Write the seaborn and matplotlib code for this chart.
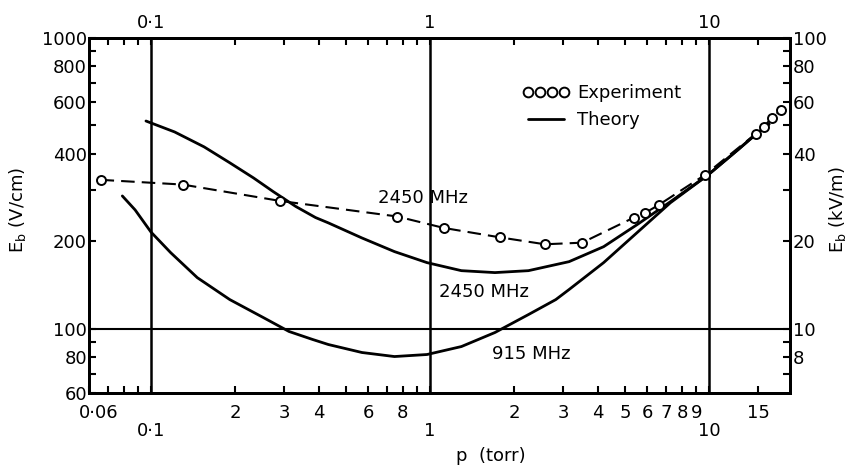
import matplotlib
matplotlib.use("Agg")
import matplotlib.pyplot as plt
import matplotlib.transforms as mtransforms
import seaborn as sns
import pandas as pd
from matplotlib.ticker import FixedLocator, FixedFormatter, NullFormatter
from matplotlib.lines import Line2D

# ---------------- data ----------------
theory_2450_p = [0.0960, 0.1216, 0.1551, 0.1917, 0.2331, 0.2744, 0.3307, 0.389,
                 0.4325, 0.5705, 0.746, 0.976, 1.296, 1.709, 2.253, 2.824,
                 3.15, 4.19, 5.52, 7.27, 9.92, 12.75, 14.7, 16.4]
theory_2450_E = [518, 475, 422, 372, 330, 296, 263, 241,
                 231, 205, 184, 168.6, 158.2, 155.8, 158.2, 166,
                 169.9, 191.3, 227.8, 273.2, 338, 414, 466, 505]

theory_915_p = [0.0790, 0.0878, 0.1, 0.1177, 0.1466, 0.1917, 0.2528, 0.3125,
                0.3797, 0.4325, 0.5705, 0.746, 0.976, 1.296, 1.709, 2.253,
                2.824, 3.15, 4.19, 5.52, 7.27, 9.92, 12.75, 14.7, 16.4]
theory_915_E = [286, 256, 215, 182.5, 149.7, 125.8, 109.1, 97.7,
                91.7, 88.1, 82.7, 80.1, 81.4, 86.7, 96.9, 111.7,
                125.8, 136.2, 168.6, 213.8, 271, 338, 414, 466, 505]

exp_p = [0.066, 0.13, 0.29, 0.764, 1.12, 1.78, 2.58, 3.51, 5.38, 5.90, 6.63,
         9.67, 14.7, 15.7, 16.8, 18.1]
exp_E = [325, 313, 275, 243, 222, 206, 195, 197.5, 241, 250, 267,
         338, 468, 495, 531, 566]

left_ticks = [60, 80, 100, 200, 400, 600, 800, 1000]
left_labels = ["60", "80", "100", "200", "400", "600", "800", "1000"]
left_minor = [70, 90, 300, 500, 700, 900]

right_ticks = [8, 10, 20, 40, 60, 80, 100]
right_labels = ["8", "10", "20", "40", "60", "80", "100"]
right_minor = [7, 9, 30, 50, 70, 90]

x_major = [0.1, 1, 10]
x_major_labels = ["0·1", "1", "10"]
x_minor = [0.06, 0.07, 0.08, 0.09, 0.2, 0.3, 0.4, 0.5, 0.6, 0.7, 0.8, 0.9,
           2, 3, 4, 5, 6, 7, 8, 9, 15]
x_minor_labels = ["0·06", "", "", "", "2", "3", "4", "", "6", "", "8", "",
                  "2", "3", "4", "5", "6", "7", "8", "9", "15"]

# ---------------- style ----------------
sns.set_style("ticks")
plt.rcParams["font.family"] = ["DejaVu Sans"]
plt.rcParams["font.size"] = 13
plt.rcParams["text.color"] = "black"
plt.rcParams["axes.edgecolor"] = "black"
plt.rcParams["xtick.color"] = "black"
plt.rcParams["ytick.color"] = "black"
plt.rcParams["axes.labelcolor"] = "black"
plt.rcParams["mathtext.fontset"] = "dejavusans"

fig = plt.figure(figsize=(8.5, 4.74), dpi=100)
ax = fig.add_axes([0.1047, 0.1709, 0.8247, 0.7489])

df24 = pd.DataFrame({"p": theory_2450_p, "E": theory_2450_E})
df915 = pd.DataFrame({"p": theory_915_p, "E": theory_915_E})
dfexp = pd.DataFrame({"p": exp_p, "E": exp_E})

sns.lineplot(data=df24, x="p", y="E", ax=ax, color="black", lw=2.0,
             sort=False, estimator=None, zorder=3)
sns.lineplot(data=df915, x="p", y="E", ax=ax, color="black", lw=2.0,
             sort=False, estimator=None, zorder=3)
sns.lineplot(data=dfexp, x="p", y="E", ax=ax, color="black", lw=1.5,
             linestyle=(0, (6.5, 3.4)), sort=False, estimator=None, zorder=4)
sns.scatterplot(data=dfexp, x="p", y="E", ax=ax, marker="o", s=42,
                facecolor="white", edgecolor="black", linewidth=1.4, zorder=5)

ax.set_xscale("log")
ax.set_yscale("log")
ax.set_xlim(0.06, 19.5)
ax.set_ylim(60, 1000)

# y (left)
ax.yaxis.set_major_locator(FixedLocator(left_ticks))
ax.yaxis.set_major_formatter(FixedFormatter(left_labels))
ax.yaxis.set_minor_locator(FixedLocator(left_minor))
ax.yaxis.set_minor_formatter(NullFormatter())
ax.tick_params(axis="y", which="both", direction="in", length=5, width=1.5,
               pad=1.5, labelsize=13)

# x (bottom)
ax.xaxis.set_major_locator(FixedLocator(x_major))
ax.xaxis.set_major_formatter(FixedFormatter(x_major_labels))
ax.xaxis.set_minor_locator(FixedLocator(x_minor))
ax.xaxis.set_minor_formatter(FixedFormatter(x_minor_labels))
ax.tick_params(axis="x", which="major", direction="in", length=5, width=1.5,
               pad=21, labelsize=13)
ax.tick_params(axis="x", which="minor", direction="in", length=5, width=1.5,
               pad=8, labelsize=13)

ax.xaxis.grid(True, which="major", color="black", lw=1.8)
ax.yaxis.grid(False)
ax.axhline(100, color="black", lw=1.5, zorder=1)
ax.set_axisbelow(True)

for s in ax.spines.values():
    s.set_linewidth(2.0)

# top axis
axt = ax.twiny()
axt.set_xscale("log")
axt.set_xlim(ax.get_xlim())
axt.xaxis.set_major_locator(FixedLocator(x_major))
axt.xaxis.set_major_formatter(FixedFormatter(x_major_labels))
axt.xaxis.set_minor_locator(FixedLocator(x_minor[1:]))
axt.xaxis.set_minor_formatter(NullFormatter())
axt.tick_params(axis="x", which="both", direction="in", length=5, width=1.5,
                pad=4, labelsize=13)

# right axis (kV/m)
axr = ax.twinx()
axr.set_yscale("log")
axr.set_ylim(6, 100)
axr.yaxis.set_major_locator(FixedLocator(right_ticks))
axr.yaxis.set_major_formatter(FixedFormatter(right_labels))
axr.yaxis.set_minor_locator(FixedLocator(right_minor))
axr.yaxis.set_minor_formatter(NullFormatter())
axr.tick_params(axis="y", which="both", direction="in", length=5, width=1.5,
                pad=2, labelsize=13)
for a in (axt, axr):
    for s in a.spines.values():
        s.set_linewidth(2.0)

# labels
ax.set_xlabel("p  (torr)", fontsize=13)
ax.xaxis.set_label_coords(0.573, -0.152)
ax.set_ylabel("E$_{\\mathrm{b}}$ (V/cm)", fontsize=13)
ax.yaxis.set_label_coords(-0.087, 0.515)
axr.set_ylabel("E$_{\\mathrm{b}}$ (kV/m)", fontsize=13)
axr.yaxis.set_label_coords(1.053, 0.515)

# curve annotations
ax.text(0.65, 282, "2450 MHz", ha="left", va="center", fontsize=13)
ax.text(1.078, 134, "2450 MHz", ha="left", va="center", fontsize=13)
ax.text(1.667, 82, "915 MHz", ha="left", va="center", fontsize=13)

# legend
handles = [Line2D([], [], marker="o", ls="none", mfc="white", mec="black",
                  mew=1.4, ms=7, color="black"),
           Line2D([], [], color="black", lw=2.0)]
ax.legend(handles, ["Experiment", "Theory"], numpoints=4, frameon=False,
          loc="center left", bbox_to_anchor=(0.619, 0.807), borderpad=0,
          borderaxespad=0, handlelength=2.6, handletextpad=0.4,
          labelspacing=0.5, fontsize=13)

# nudge the "0·06" label a little to the right, as in the reference
fig.canvas.draw()
first_minor = ax.xaxis.get_minor_ticks()[0].label1
first_minor.set_transform(first_minor.get_transform() +
                          mtransforms.ScaledTranslation(7 / 72, 0, fig.dpi_scale_trans))

fig.savefig("out.png", dpi=100)
